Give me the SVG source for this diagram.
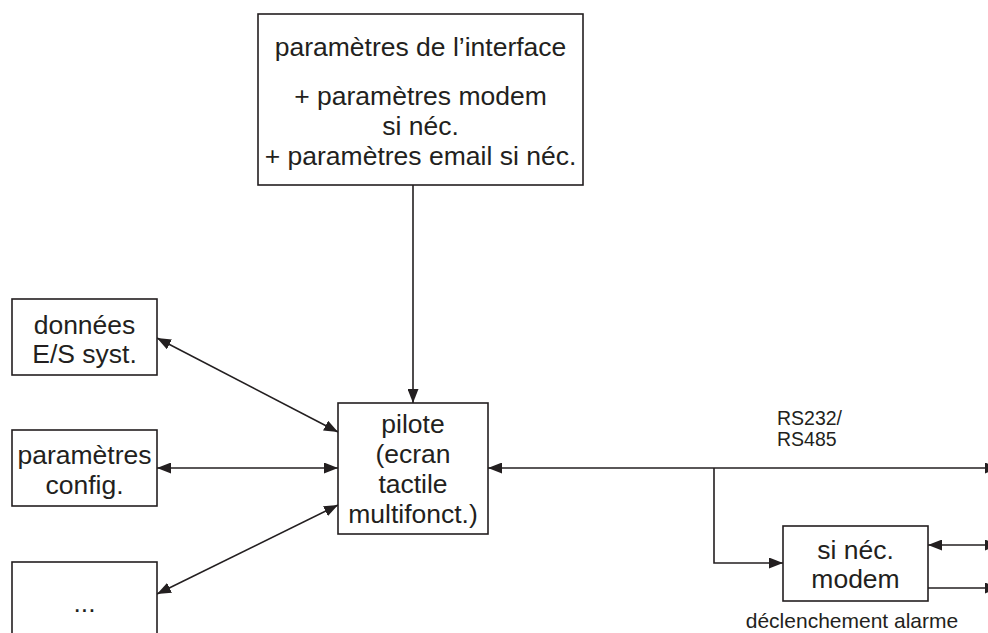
<svg xmlns="http://www.w3.org/2000/svg" width="988" height="633" viewBox="0 0 988 633">
<defs>
<marker id="ah" viewBox="0 0 14 11" refX="14" refY="5.5" markerWidth="14" markerHeight="11" markerUnits="userSpaceOnUse" orient="auto-start-reverse">
<path d="M0,0 L14,5.5 L0,11 z" fill="#231f20"/>
</marker>
<style>
.box{fill:#fff;stroke:#231f20;stroke-width:1.6}
.t{font-family:"Liberation Sans",Arial,sans-serif;font-size:26.5px;fill:#231f20;text-anchor:middle}
.s{font-family:"Liberation Sans",Arial,sans-serif;font-size:19.5px;fill:#231f20}
.c{fill:none;stroke:#231f20;stroke-width:1.6}
</style>
</defs>
<rect width="988" height="633" fill="#fff"/>
<g id="connectors">
<line class="c" x1="413" y1="185" x2="413" y2="403" marker-end="url(#ah)"/>
<line class="c" x1="157" y1="338" x2="338" y2="432" marker-start="url(#ah)" marker-end="url(#ah)"/>
<line class="c" x1="157" y1="468" x2="338" y2="468" marker-start="url(#ah)" marker-end="url(#ah)"/>
<line class="c" x1="157" y1="594" x2="338" y2="505" marker-start="url(#ah)" marker-end="url(#ah)"/>
<line class="c" x1="488" y1="468" x2="999" y2="468" marker-start="url(#ah)" marker-end="url(#ah)"/>
<polyline class="c" points="714,468 714,563 783,563" marker-end="url(#ah)"/>
<line class="c" x1="928" y1="545" x2="999" y2="545" marker-start="url(#ah)" marker-end="url(#ah)"/>
<line class="c" x1="928" y1="588" x2="999" y2="588" marker-end="url(#ah)"/>
<text class="s" x="777" y="425">RS232/</text>
<text class="s" x="777" y="446">RS485</text>
</g>
<g id="interface">
<rect class="box" x="258" y="14" width="325" height="171"/>
<text class="t" x="420.5" y="56">paramètres de l’interface</text>
<text class="t" x="420.5" y="105">+ paramètres modem</text>
<text class="t" x="420.5" y="135">si néc.</text>
<text class="t" x="420.5" y="165">+ paramètres email si néc.</text>
</g>
<g id="donnees">
<rect class="box" x="12" y="299" width="145" height="76"/>
<text class="t" x="84.5" y="334">données</text>
<text class="t" x="84.5" y="363">E/S syst.</text>
</g>
<g id="config">
<rect class="box" x="12" y="430" width="145" height="76"/>
<text class="t" x="84.5" y="464">paramètres</text>
<text class="t" x="84.5" y="494">config.</text>
</g>
<g id="autres">
<rect class="box" x="12" y="562" width="145" height="80"/>
<text class="t" x="84.5" y="612">...</text>
</g>
<g id="pilote">
<rect class="box" x="338" y="403" width="150" height="131"/>
<text class="t" x="413" y="433">pilote</text>
<text class="t" x="413" y="463">(ecran</text>
<text class="t" x="413" y="493">tactile</text>
<text class="t" x="413" y="523">multifonct.)</text>
</g>
<g id="modem">
<rect class="box" x="783" y="526" width="145" height="75"/>
<text class="t" x="855.5" y="559">si néc.</text>
<text class="t" x="855.5" y="588">modem</text>
<text class="s" x="852" y="628" text-anchor="middle" style="font-size:21px">déclenchement alarme</text>
</g>
</svg>
